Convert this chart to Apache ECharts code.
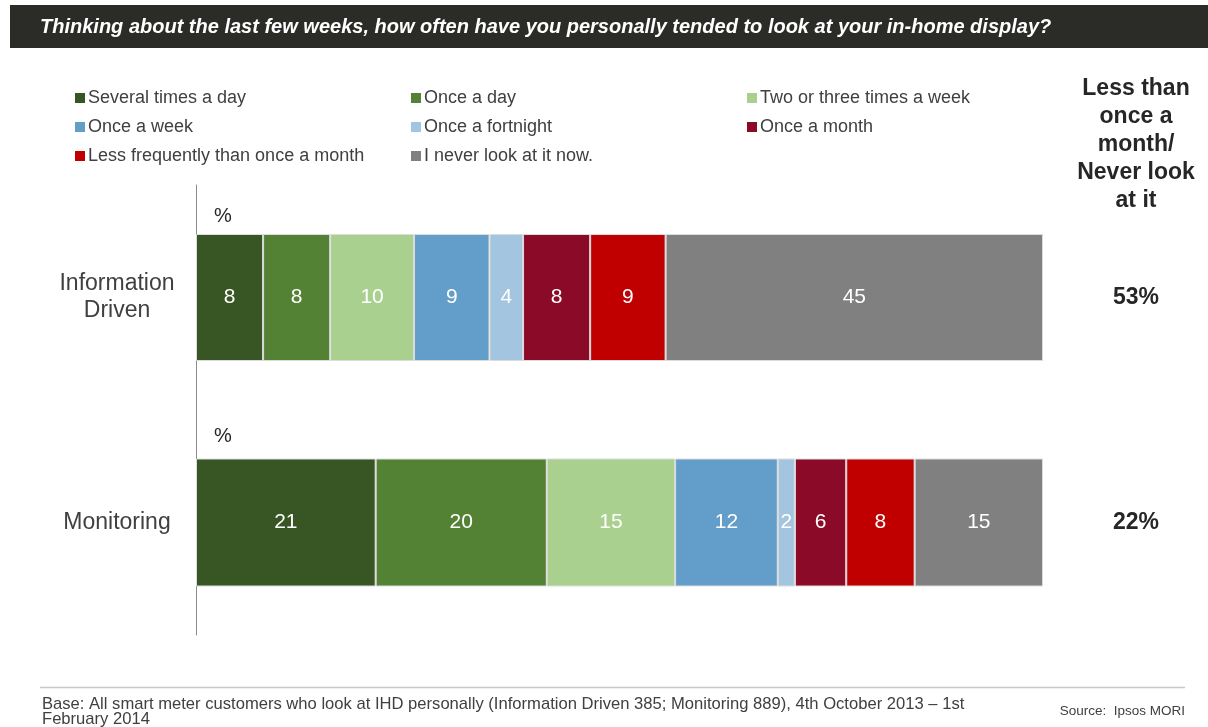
<!DOCTYPE html>
<html>
<head>
<meta charset="utf-8">
<title>In-home display viewing frequency</title>
<script src="https://cdn.jsdelivr.net/npm/echarts@6/dist/echarts.min.js"></script>
<style>
  html, body { margin: 0; padding: 0; background: #ffffff; }
  #chart { width: 1208px; height: 727px; }
</style>
</head>
<body>
<div id="chart"></div>
<script>
// Segments, groups and values
const categories = ['Information Driven', 'Monitoring'];
const responses = [
  'Several times a day',
  'Once a day',
  'Two or three times a week',
  'Once a week',
  'Once a fortnight',
  'Once a month',
  'Less frequently than once a month',
  'I never look at it now.'
];
const informationDriven = [8, 8, 10, 9, 4, 8, 9, 45];
const monitoring = [21, 20, 15, 12, 2, 6, 8, 15];
const lessThanMonthly = ['53%', '22%'];
const colors = ['#375623', '#548235', '#a9d08e', '#629ec9', '#a3c5e0', '#8b0a28', '#c00000', '#808080'];

const rows = [informationDriven, monitoring];
const FONT = 'Liberation Sans, Arial, sans-serif';

const grids = [];
const xAxes = [];
const yAxes = [];
const series = [];

rows.forEach((row, i) => {
  grids.push({ left: 196, right: 165, top: 185 + i * 225, height: 225, containLabel: false });
  // each row is scaled to its own total so both bars span the full width
  xAxes.push({
    type: 'value', gridIndex: i, min: 0,
    max: row.reduce((a, b) => a + b, 0),
    show: false
  });
  // group name on the left, with the axis line
  yAxes.push({
    type: 'category', gridIndex: i, data: [categories[i]],
    axisLine: { show: true, lineStyle: { color: '#8c8c8c', width: 1 } },
    axisTick: { show: false },
    splitLine: { show: false },
    axisLabel: {
      color: '#404040', fontSize: 23, fontFamily: FONT,
      lineHeight: 27, align: 'center', margin: 79,
      formatter: v => v === 'Information Driven' ? 'Information\nDriven' : v
    }
  });
  // "less than once a month / never" summary on the right
  yAxes.push({
    type: 'category', gridIndex: i, position: 'right', data: [lessThanMonthly[i]],
    axisLine: { show: false }, axisTick: { show: false }, splitLine: { show: false },
    axisLabel: {
      color: '#262626', fontSize: 23, fontWeight: 'bold', fontFamily: FONT,
      align: 'center', margin: 93
    }
  });
  row.forEach((v, k) => {
    series.push({
      name: responses[k],
      type: 'bar',
      xAxisIndex: i,
      yAxisIndex: i * 2,
      stack: 'row' + i,
      barWidth: i === 0 ? 127 : 128,
      data: [v],
      itemStyle: { color: colors[k], borderColor: '#dcdcdc', borderWidth: 1 },
      label: {
        show: true, position: 'inside', color: '#ffffff',
        fontSize: 21, fontFamily: FONT
      },
      emphasis: { disabled: true }
    });
  });
});

const legendBase = {
  orient: 'vertical', top: 84, icon: 'rect',
  itemWidth: 10, itemHeight: 10, itemGap: 11,
  selectedMode: false,
  itemStyle: { borderWidth: 0 },
  textStyle: { color: '#404040', fontSize: 18, fontFamily: FONT, padding: [0, 0, 0, -2] }
};

const summaryHeader = ['Less than', 'once a', 'month/', 'Never look', 'at it'];

const option = {
  animation: false,
  color: colors,
  grid: grids,
  xAxis: xAxes,
  yAxis: yAxes,
  series: series,
  legend: [
    Object.assign({}, legendBase, { left: 70, data: [responses[0], responses[3], responses[6]] }),
    Object.assign({}, legendBase, { left: 406, data: [responses[1], responses[4], responses[7]] }),
    Object.assign({}, legendBase, { left: 742, data: [responses[2], responses[5]] })
  ],
  graphic: [
    { type: 'rect', left: 10, top: 5, shape: { width: 1198, height: 43 }, style: { fill: '#2b2b27' }, silent: true },
    {
      type: 'text', left: 40, top: 17, silent: true,
      style: {
        text: 'Thinking about the last few weeks, how often have you personally tended to look at your in-home display?',
        fill: '#ffffff', font: 'italic bold 20px ' + FONT
      }
    },
    {
      type: 'text', x: 1136, y: 75, silent: true,
      style: {
        text: summaryHeader.join('\n'), fill: '#262626',
        font: 'bold 23px ' + FONT, lineHeight: 28, align: 'center'
      }
    },
    { type: 'text', x: 214, y: 206, silent: true, style: { text: '%', fill: '#262626', font: '20px ' + FONT } },
    { type: 'text', x: 214, y: 426, silent: true, style: { text: '%', fill: '#262626', font: '20px ' + FONT } },
    { type: 'line', shape: { x1: 40, y1: 687.5, x2: 1185, y2: 687.5 }, style: { stroke: '#c8c8c8', lineWidth: 1.5 }, silent: true },
    {
      type: 'text', x: 42, y: 697, silent: true,
      style: {
        text: 'Base: All smart meter customers who look at IHD personally (Information Driven 385; Monitoring 889), 4th October 2013 \u2013 1st\nFebruary 2014',
        fill: '#404040', font: '16.6px ' + FONT, lineHeight: 15
      }
    },
    {
      type: 'text', x: 1185, y: 704, silent: true,
      style: { text: 'Source:  Ipsos MORI', fill: '#404040', font: '13.5px ' + FONT, align: 'right' }
    }
  ]
};

const chart = echarts.init(document.getElementById('chart'), null, { renderer: 'canvas' });
chart.setOption(option);
</script>
</body>
</html>
